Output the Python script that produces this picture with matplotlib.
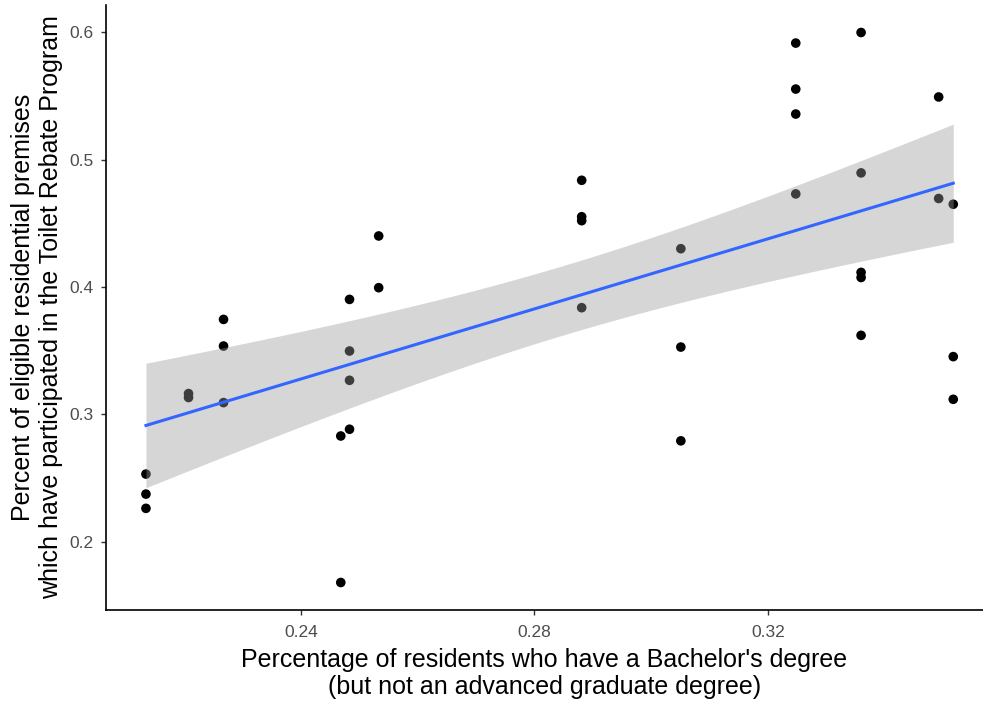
import numpy as np
import matplotlib
matplotlib.use("Agg")
import matplotlib.pyplot as plt

plt.rcParams['font.family'] = ['Liberation Sans', 'DejaVu Sans']

# Data
bachelor = [0.2134, 0.2134, 0.2134,
            0.2207, 0.2207,
            0.2267, 0.2267, 0.2267,
            0.2468, 0.2468,
            0.2483, 0.2483, 0.2483, 0.2483,
            0.2533, 0.2533,
            0.2881, 0.2881, 0.2881, 0.2881,
            0.3051, 0.3051, 0.3051,
            0.3248, 0.3248, 0.3248, 0.3248,
            0.3360, 0.3360, 0.3360, 0.3360, 0.3360,
            0.3493, 0.3493,
            0.3518, 0.3518, 0.3518]
participation = [0.2531, 0.2374, 0.2262,
                 0.3163, 0.3132,
                 0.3745, 0.3536, 0.3092,
                 0.1680, 0.2830,
                 0.3902, 0.3497, 0.3267, 0.2883,
                 0.4400, 0.3994,
                 0.4837, 0.4551, 0.4520, 0.3837,
                 0.4300, 0.3528, 0.2792,
                 0.5914, 0.5553, 0.5357, 0.4730,
                 0.5997, 0.4895, 0.4114, 0.4074, 0.3620,
                 0.5491, 0.4694,
                 0.4649, 0.3453, 0.3118]

x_ticks = [0.24, 0.28, 0.32]
x_tick_labels = ["0.24", "0.28", "0.32"]
y_ticks = [0.2, 0.3, 0.4, 0.5, 0.6]
y_tick_labels = ["0.2", "0.3", "0.4", "0.5", "0.6"]

x = np.array(bachelor)
y = np.array(participation)

# linear model with 95% confidence band
n = len(x)
X = np.column_stack([np.ones(n), x])
beta, *_ = np.linalg.lstsq(X, y, rcond=None)
resid = y - X @ beta
sigma2 = resid @ resid / (n - 2)
XtX_inv = np.linalg.inv(X.T @ X)
t_crit = 2.030  # 97.5% quantile of t with 35 df
xs = np.linspace(x.min(), x.max(), 80)
Xs = np.column_stack([np.ones_like(xs), xs])
fit = Xs @ beta
se = np.sqrt(np.einsum('ij,jk,ik->i', Xs, XtX_inv, Xs) * sigma2)
lo = fit - t_crit * se
hi = fit + t_crit * se

fig = plt.figure(figsize=(9.83, 7.02), dpi=100)
ax = fig.add_axes([105.7 / 983, 92 / 702, (983 - 105.7) / 983, (610 - 5) / 702])

ax.scatter(x, y, s=48, color='black', edgecolors='none', zorder=2)
ax.fill_between(xs, lo, hi, color='#999999', alpha=0.4, linewidth=0, zorder=3)
ax.plot(xs, fit, color='#3366FF', linewidth=2.2, zorder=4)

# axis limits (panel extends slightly past the image edge on the right)
yr = y.max() - y.min()
ax.set_xlim(0.2065, 0.3569)
ax.set_ylim(y.min() - 0.05 * yr, y.max() + 0.05 * yr)

ax.set_xticks(x_ticks)
ax.set_xticklabels(x_tick_labels)
ax.set_yticks(y_ticks)
ax.set_yticklabels(y_tick_labels)

for s in ['top', 'right']:
    ax.spines[s].set_visible(False)
for s in ['left', 'bottom']:
    ax.spines[s].set_color('black')
    ax.spines[s].set_linewidth(1.2)

ax.tick_params(axis='both', length=3.5, width=1.0, color='#333333',
               labelcolor='#4D4D4D', labelsize=12.5)
ax.tick_params(axis='x', pad=7)
ax.tick_params(axis='y', pad=5)

ax.set_xlabel("Percentage of residents who have a Bachelor's degree\n(but not an advanced graduate degree)",
              fontsize=18, color='black', labelpad=6, linespacing=1.17)
ax.set_ylabel("Percent of eligible residential premises\nwhich have participated in the Toilet Rebate Program",
              fontsize=18, color='black', labelpad=5, linespacing=1.17)

fig.savefig("out.png", dpi=100)
